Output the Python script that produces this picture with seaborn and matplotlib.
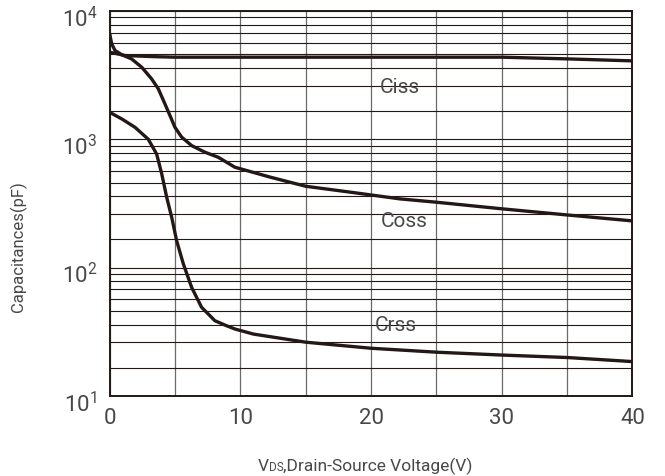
import numpy as np
import pandas as pd
import matplotlib
matplotlib.use("Agg")
import matplotlib.pyplot as plt
import matplotlib.transforms as mtransforms
from matplotlib.ticker import FixedLocator, LogFormatterMathtext, NullFormatter
from matplotlib.offsetbox import TextArea, HPacker, AnchoredOffsetbox
import seaborn as sns

# Input, output and reverse-transfer capacitance vs. drain-source voltage
ciss_v = [0, 1.17, 3.46, 5, 9.58, 20, 30, 35, 40]
ciss_pf = [4770, 4490, 4400, 4360, 4360, 4360, 4360, 4230, 4080]

coss_v = [0, 0.15, 0.41, 0.92, 1.68, 2.45, 3.21, 3.72, 4.23, 4.61, 4.99, 5.5,
          6.27, 7.29, 8.3, 9.58, 12.3, 15, 18.4, 22.2, 25, 30, 35, 40]
coss_pf = [6620, 5530, 4910, 4560, 4220, 3640, 2950, 2470, 1880, 1530, 1240, 1040,
           892, 792, 724, 605, 506, 430, 387, 343, 323, 287, 257, 231]

crss_v = [0, 0.92, 1.93, 2.95, 3.59, 3.98, 4.36, 4.74, 5.12, 5.63, 6.27, 7.03,
          8.05, 8.94, 9.58, 11, 15, 20, 25, 30, 35, 40]
crss_pf = [1620, 1440, 1240, 1000, 767, 537, 353, 247, 162, 107, 70, 49,
           38.5, 35.2, 33.2, 30.3, 26.2, 23.5, 21.9, 20.8, 19.9, 18.5]

curve_names = ["Ciss", "Coss", "Crss"]
x_ticks = [0, 10, 20, 30, 40]

sns.set_style("white")
plt.rcParams["font.family"] = ["Roboto", "DejaVu Sans"]
plt.rcParams["mathtext.fontset"] = "custom"
plt.rcParams["mathtext.rm"] = "Roboto"
plt.rcParams["mathtext.it"] = "Roboto"

ink = "#231815"
text_col = "#4a4747"

fig = plt.figure(figsize=(6.65, 4.77), dpi=100)
ax = fig.add_axes([0.165, 0.168, 0.786, 0.807])

frames = []
for name, v, c in zip(curve_names, [ciss_v, coss_v, crss_v], [ciss_pf, coss_pf, crss_pf]):
    frames.append(pd.DataFrame({"V": v, "C": c, "curve": name}))
df = pd.concat(frames, ignore_index=True)

sns.lineplot(data=df, x="V", y="C", hue="curve", palette=[ink] * 3,
             linewidth=2.4, legend=False, sort=False, ax=ax, zorder=5)
for line in ax.get_lines():
    line.set_solid_joinstyle("round")
    line.set_solid_capstyle("round")

ax.set_yscale("log")
ax.set_xlim(0, 40)
ax.set_ylim(10, 1e4)

# Printed-chart style grid: decade lines plus the sub-decade rulings
sub_fracs = [0.219, 0.418, 0.554, 0.662, 0.753, 0.830, 0.892, 0.950]
minor_y = [10 ** (k + f) for k in (1, 2, 3) for f in sub_fracs]
ax.yaxis.set_major_locator(FixedLocator([10, 100, 1000, 10000]))
ax.yaxis.set_major_formatter(LogFormatterMathtext())
ax.yaxis.set_minor_locator(FixedLocator(minor_y))
ax.yaxis.set_minor_formatter(NullFormatter())
ax.xaxis.set_major_locator(FixedLocator(x_ticks))
ax.xaxis.set_minor_locator(FixedLocator([5, 15, 25, 35]))

ax.grid(True, which="both", axis="y", color=ink, linewidth=0.8)
ax.grid(True, which="both", axis="x", color="#6a6a6a", linewidth=0.9)
ax.set_axisbelow(True)

ax.tick_params(which="both", length=0)
ax.tick_params(axis="x", pad=8, labelsize=16, labelcolor=text_col)
ax.tick_params(axis="y", pad=9, labelsize=16, labelcolor=text_col)

shift_down = mtransforms.ScaledTranslation(0, -5 / 100, fig.dpi_scale_trans)
for lab in ax.get_yticklabels():
    lab.set_transform(lab.get_transform() + shift_down)

for sp in ax.spines.values():
    sp.set_color(ink)
    sp.set_linewidth(1.4)
    sp.set_visible(True)

ax.set_xlabel("")
ax.set_ylabel("")

label_pos = {"Ciss": (22.2, 2560), "Coss": (22.5, 231), "Crss": (21.9, 35.7)}
for name in curve_names:
    x, y = label_pos[name]
    ax.text(x, y, name, ha="center", va="center", fontsize=15,
            color=text_col, zorder=6)

fig.text(18 / 665, 1 - 247 / 477, "Capacitances(pF)", rotation=90,
         ha="center", va="center", fontsize=12, color=text_col)

parts = [
    TextArea("V", textprops=dict(fontsize=12.5, color=text_col)),
    TextArea("DS", textprops=dict(fontsize=8.5, color=text_col)),
    TextArea(",Drain-Source Voltage(V)", textprops=dict(fontsize=12.5, color=text_col)),
]
xlabel_box = HPacker(children=parts, align="baseline", pad=0, sep=0)
anchored = AnchoredOffsetbox(loc="center", child=xlabel_box, pad=0, borderpad=0,
                             frameon=False, bbox_to_anchor=(365 / 665, 1 - 466 / 477),
                             bbox_transform=fig.transFigure)
fig.add_artist(anchored)

fig.savefig("out.png", dpi=100)
